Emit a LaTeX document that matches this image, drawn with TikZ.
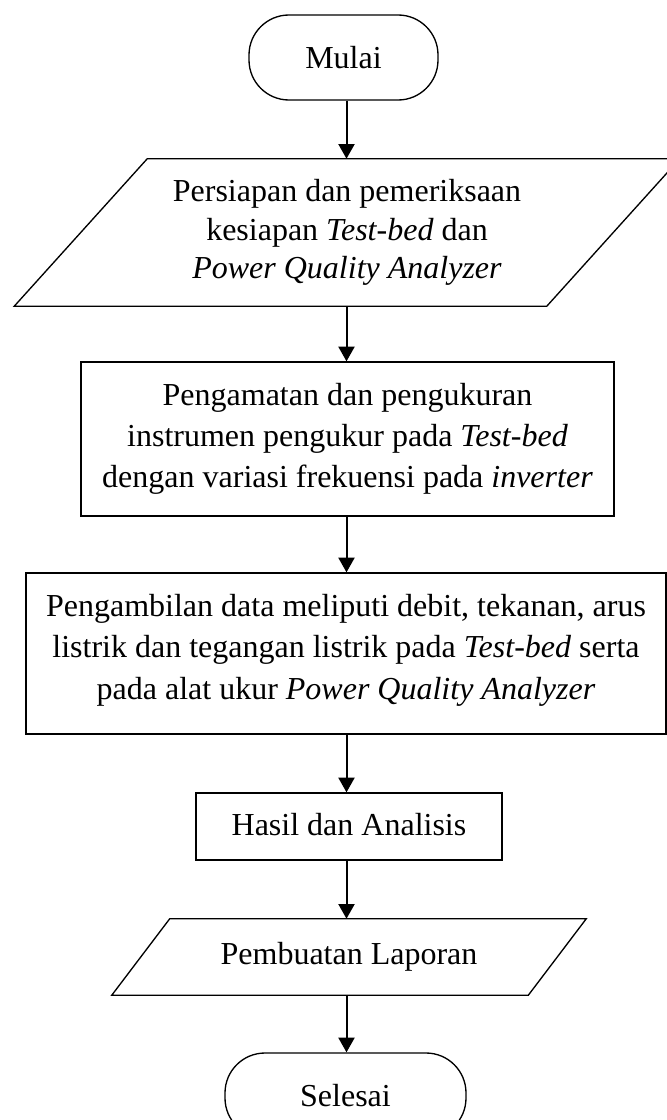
\documentclass[tikz,border=0pt]{standalone}
\usepackage{fontspec}
\setmainfont{Liberation Serif}
\usetikzlibrary{arrows.meta}

\begin{document}
\begin{tikzpicture}[x=0.75pt, y=-0.75pt,
  every node/.style={font=\fontsize{24}{31}\selectfont, align=center, inner sep=0pt},
  terminal/.style={draw, line width=1pt, rounded corners=30pt, minimum height=63.75pt},
  procbox/.style={draw, line width=1pt},
  iobox/.style={font=\fontsize{24}{29}\selectfont},
  shapeline/.style={line width=1pt, line join=miter},
  flow/.style={line width=1.5pt, -{Triangle[length=11pt, width=12pt]}}
]
\useasboundingbox (0,0) rectangle (667,1120);
\fill[white] (0,0) rectangle (667,1120);
\clip (0,0) rectangle (667,1120);

% terminals, steps and data boxes
\node[terminal, minimum width=141.75pt] (start) at (343.5,57.5) {Mulai};
\node[iobox, minimum width=399pt, minimum height=110.25pt] (prep) at (347,232.5)
  {Persiapan dan pemeriksaan\\kesiapan \textit{Test-bed} dan\\\textit{Power Quality Analyzer}};
\node[procbox, minimum width=399.75pt, minimum height=115.5pt] (observe) at (347.5,439)
  {Pengamatan dan pengukuran\\instrumen pengukur pada \textit{Test-bed}\\dengan variasi frekuensi pada \textit{inverter}};
\node[procbox, minimum width=480pt, minimum height=120.75pt] (collect) at (346,653.5)
  {Pengambilan data meliputi debit, tekanan, arus\\listrik dan tegangan listrik pada \textit{Test-bed} serta\\pada alat ukur \textit{Power Quality Analyzer}\rule[-10pt]{0pt}{0pt}};
\node[procbox, minimum width=229.5pt, minimum height=50.25pt] (result) at (349,826.5)
  {Hasil dan Analisis\rule[-3pt]{0pt}{0pt}};
\node[minimum width=312pt, minimum height=57pt] (report) at (349,957) {Pembuatan Laporan};
\node[terminal, minimum width=180.75pt] (stop) at (345.5,1095.5) {Selesai};

% slanted input/output outlines
\draw[shapeline] ([xshift=-49.9pt]prep.south west) -- ([xshift=49.9pt]prep.north west)
  -- ([xshift=49.9pt]prep.north east) -- ([xshift=-49.9pt]prep.south east) -- cycle;
\draw[shapeline] ([xshift=-21.75pt]report.south west) -- ([xshift=21.75pt]report.north west)
  -- ([xshift=21.75pt]report.north east) -- ([xshift=-21.75pt]report.south east) -- cycle;

% connectors
\coordinate (spine) at (346.5,0);
\draw[flow] (start.south -| spine) -- (prep.north -| spine);
\draw[flow] (prep.south -| spine) -- (observe.north -| spine);
\draw[flow] (observe.south -| spine) -- (collect.north -| spine);
\draw[flow] (collect.south -| spine) -- (result.north -| spine);
\draw[flow] (result.south -| spine) -- (report.north -| spine);
\draw[flow] (report.south -| spine) -- (stop.north -| spine);
\end{tikzpicture}
\end{document}
